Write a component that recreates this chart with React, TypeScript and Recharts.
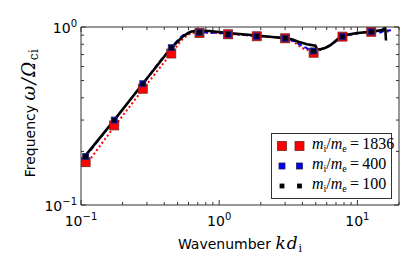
import React from 'react'
import { ComposedChart, Line, Scatter, XAxis, YAxis, Legend, Label } from 'recharts'

// marker positions (same k for every mass ratio)
const kMarks = [0.108, 0.174, 0.28, 0.45, 0.72, 1.16, 1.87, 3.0, 4.82, 7.8, 12.6]
const w1836Marks = [0.174, 0.28, 0.45, 0.71, 0.925, 0.91, 0.887, 0.864, 0.717, 0.883, 0.94]
const w400Marks = [0.187, 0.3, 0.48, 0.765, 0.93, 0.91, 0.887, 0.864, 0.733, 0.883, 0.94]
const w100Marks = [0.187, 0.3, 0.48, 0.765, 0.93, 0.91, 0.887, 0.864, 0.733, 0.883, 0.94]

// curves
const k1836Line = [0.113, 0.174, 0.28, 0.45, 0.567, 0.65, 0.72, 1.16, 1.87, 3.0, 3.5, 3.9, 4.4, 4.82, 5.5, 6.4, 7.8, 10, 12.6, 15.5, 17.5]
const w1836Line = [0.175, 0.275, 0.445, 0.71, 0.88, 0.925, 0.93, 0.915, 0.89, 0.86, 0.82, 0.77, 0.74, 0.72, 0.75, 0.79, 0.88, 0.92, 0.94, 0.95, 0.93]
const k400Line = [0.108, 0.174, 0.28, 0.45, 0.55, 0.65, 0.72, 1.16, 1.87, 3.0, 3.5, 3.9, 4.3, 4.82, 5.5, 6.4, 7.8, 10, 12.6, 14.5, 15.5, 17.5]
const w400Line = [0.187, 0.3, 0.48, 0.765, 0.9, 0.94, 0.935, 0.92, 0.89, 0.865, 0.83, 0.79, 0.76, 0.733, 0.75, 0.79, 0.88, 0.92, 0.94, 0.93, 0.95, 0.96]
const k100Line = [0.108, 0.174, 0.28, 0.45, 0.55, 0.62, 0.7, 0.85, 1.16, 1.87, 3.0, 3.4, 3.73, 4.32, 4.97, 5.11, 5.4, 5.9, 6.37, 7.32, 7.95, 10, 12.6, 15.0, 15.9, 16.1]
const w100Line = [0.19, 0.3, 0.48, 0.765, 0.89, 0.94, 0.955, 0.95, 0.925, 0.895, 0.865, 0.85, 0.827, 0.8, 0.785, 0.75, 0.75, 0.765, 0.79, 0.864, 0.9, 0.925, 0.94, 0.96, 0.995, 0.84]

const xTicks = [0.1, 0.2, 0.3, 0.4, 0.5, 0.6, 0.7, 0.8, 0.9, 1, 2, 3, 4, 5, 6, 7, 8, 9, 10, 20]
const yTicks = [0.1, 0.2, 0.3, 0.4, 0.5, 0.6, 0.7, 0.8, 0.9, 1]

const zip = (ks: number[], ws: number[]) => ks.map((k, i) => ({ k, w: ws[i] }))

const marks1836 = zip(kMarks, w1836Marks)
const marks400 = zip(kMarks, w400Marks)
const marks100 = zip(kMarks, w100Marks)
const line1836 = zip(k1836Line, w1836Line)
const line400 = zip(k400Line, w400Line)
const line100 = zip(k100Line, w100Line)

const SANS = 'DejaVu Sans, sans-serif'
const MATH = 'DejaVu Serif, Liberation Serif, serif'
const LEG = 'Liberation Serif, DejaVu Serif, serif'
const EDGE = '#333'

const isMajor = (v: number) => Math.abs(Math.log10(v) - Math.round(Math.log10(v))) < 1e-6
const expOf = (v: number) => {
  const e = Math.round(Math.log10(v))
  return e < 0 ? `\u2212${-e}` : `${e}`
}

function PowLabel({ x, y, v, anchor }: { x: number; y: number; v: number; anchor: 'middle' | 'end' }) {
  return (
    <text x={x} y={y} textAnchor={anchor} fontFamily={SANS} fontSize={14} fill="#000">
      10
      <tspan dy={-6} fontSize={10}>{expOf(v)}</tspan>
    </text>
  )
}

const xTick = (side: 'bottom' | 'top') => (p: any) => {
  const v = p.payload.value
  const len = isMajor(v) ? 5 : 3
  const dir = side === 'bottom' ? -1 : 1
  return (
    <g>
      <line x1={p.x} x2={p.x} y1={p.y} y2={p.y + dir * len} stroke={EDGE} strokeWidth={1} />
      {side === 'bottom' && isMajor(v) && <PowLabel x={p.x} y={p.y + 21} v={v} anchor="middle" />}
    </g>
  )
}

const yTick = (side: 'left' | 'right') => (p: any) => {
  const v = p.payload.value
  const len = isMajor(v) ? 5 : 3
  const dir = side === 'left' ? 1 : -1
  return (
    <g>
      <line x1={p.x} x2={p.x + dir * len} y1={p.y} y2={p.y} stroke={EDGE} strokeWidth={1} />
      {side === 'left' && isMajor(v) && <PowLabel x={p.x - 4} y={p.y + 6} v={v} anchor="end" />}
    </g>
  )
}

const square = (size: number, fill: string, stroke: string) => (p: any) => (
  <rect x={p.cx - size / 2} y={p.cy - size / 2} width={size} height={size} fill={fill} stroke={stroke} strokeWidth={0.8} />
)

const legendRows = [
  { ratio: '1836', size: 9, fill: '#ff0000', stroke: '#7a2222' },
  { ratio: '400', size: 6, fill: '#0000ff', stroke: '#222255' },
  { ratio: '100', size: 4, fill: '#000', stroke: '#000' },
]

function LegendBox() {
  return (
    <div style={{ border: `1px solid ${EDGE}`, background: '#fff', width: 119, height: 62, paddingTop: 2, boxSizing: 'content-box' }}>
      {legendRows.map((r) => (
        <div key={r.ratio} style={{ display: 'flex', alignItems: 'center', height: 20 }}>
          <svg width={40} height={20} style={{ flex: 'none' }}>
            <rect x={10 - r.size / 2} y={10 - r.size / 2} width={r.size} height={r.size} fill={r.fill} stroke={r.stroke} strokeWidth={0.8} />
            <rect x={27.5 - r.size / 2} y={10 - r.size / 2} width={r.size} height={r.size} fill={r.fill} stroke={r.stroke} strokeWidth={0.8} />
          </svg>
          <span style={{ fontFamily: LEG, fontSize: 16, whiteSpace: 'nowrap', color: '#000', lineHeight: '20px' }}>
            <i>m</i><sub style={{ fontSize: 10, verticalAlign: '-3px' }}>i</sub>/<i>m</i><sub style={{ fontSize: 10, verticalAlign: '-3px' }}>e</sub>
            {'\u2009=\u2009'}{r.ratio}
          </span>
        </div>
      ))}
    </div>
  )
}

function XTitle(props: any) {
  const vb = props.viewBox
  return (
    <text x={vb.x + vb.width / 2} y={vb.y + 44} textAnchor="middle" fontFamily={SANS} fontSize={14} fill="#000">
      Wavenumber{' '}
      <tspan fontFamily={MATH} fontStyle="italic" fontSize={17} letterSpacing={1}>kd</tspan>
      <tspan fontFamily={MATH} fontSize={11} dy={3}>i</tspan>
    </text>
  )
}

function YTitle(props: any) {
  const vb = props.viewBox
  const cx = vb.x - 45
  const cy = vb.y + vb.height / 2 - 3
  return (
    <text x={cx} y={cy} transform={`rotate(-90 ${cx} ${cy})`} textAnchor="middle" fontFamily={SANS} fontSize={14} fill="#000">
      Frequency{' '}
      <tspan fontFamily={MATH} fontStyle="italic" fontSize={18} letterSpacing={1.5}>{'\u03c9/\u03a9'}</tspan>
      <tspan fontFamily={MATH} fontSize={12} dy={3} letterSpacing={0.5}>ci</tspan>
    </text>
  )
}

export default function App() {
  return (
    <div style={{ position: 'absolute', left: 0, top: 0, background: '#fff' }}>
      <ComposedChart width={415} height={277} margin={{ top: 26, right: 15, bottom: 71, left: 80 }}>
        <XAxis
          xAxisId="b" dataKey="k" type="number" scale="log" domain={[0.1, 20]} allowDataOverflow
          ticks={xTicks} interval={0} height={1} tickSize={0} tickMargin={0} tickLine={false}
          axisLine={{ stroke: EDGE, strokeWidth: 1 }} tick={xTick('bottom')}
        >
          <Label content={XTitle} />
        </XAxis>
        <XAxis
          xAxisId="t" orientation="top" dataKey="k" type="number" scale="log" domain={[0.1, 20]} allowDataOverflow
          ticks={xTicks} interval={0} height={1} tickSize={0} tickMargin={0} tickLine={false}
          axisLine={{ stroke: EDGE, strokeWidth: 1 }} tick={xTick('top')}
        />
        <YAxis
          yAxisId="l" dataKey="w" type="number" scale="log" domain={[0.1, 1]} allowDataOverflow
          ticks={yTicks} interval={0} width={1} tickSize={0} tickMargin={0} tickLine={false}
          axisLine={{ stroke: EDGE, strokeWidth: 1 }} tick={yTick('left')}
        >
          <Label content={YTitle} />
        </YAxis>
        <YAxis
          yAxisId="r" orientation="right" dataKey="w" type="number" scale="log" domain={[0.1, 1]} allowDataOverflow
          ticks={yTicks} interval={0} width={1} tickSize={0} tickMargin={0} tickLine={false}
          axisLine={{ stroke: EDGE, strokeWidth: 1 }} tick={yTick('right')}
        />

        <Line xAxisId="b" yAxisId="l" data={line1836} dataKey="w" type="monotone" stroke="#ff0000" strokeWidth={2}
          strokeDasharray="2 2.5" dot={false} isAnimationActive={false} />
        <Line xAxisId="b" yAxisId="l" data={line400} dataKey="w" type="monotone" stroke="#0000ff" strokeWidth={2}
          strokeDasharray="5 3" dot={false} isAnimationActive={false} />
        <Line xAxisId="b" yAxisId="l" data={line100} dataKey="w" type="linear" stroke="#000" strokeWidth={2.6}
          dot={false} isAnimationActive={false} />

        <Scatter xAxisId="b" yAxisId="l" data={marks1836} dataKey="w" shape={square(9, '#ff0000', '#7a2222')} isAnimationActive={false} />
        <Scatter xAxisId="b" yAxisId="l" data={marks400} dataKey="w" shape={square(6, '#0000ff', '#222255')} isAnimationActive={false} />
        <Scatter xAxisId="b" yAxisId="l" data={marks100} dataKey="w" shape={square(3.5, '#000', '#000')} isAnimationActive={false} />

        <Legend
          layout="horizontal" verticalAlign="middle" align="center"
          content={() => <LegendBox />}
          wrapperStyle={{ left: 271, top: 133, width: 121, height: 66 }}
        />
      </ComposedChart>
    </div>
  )
}
